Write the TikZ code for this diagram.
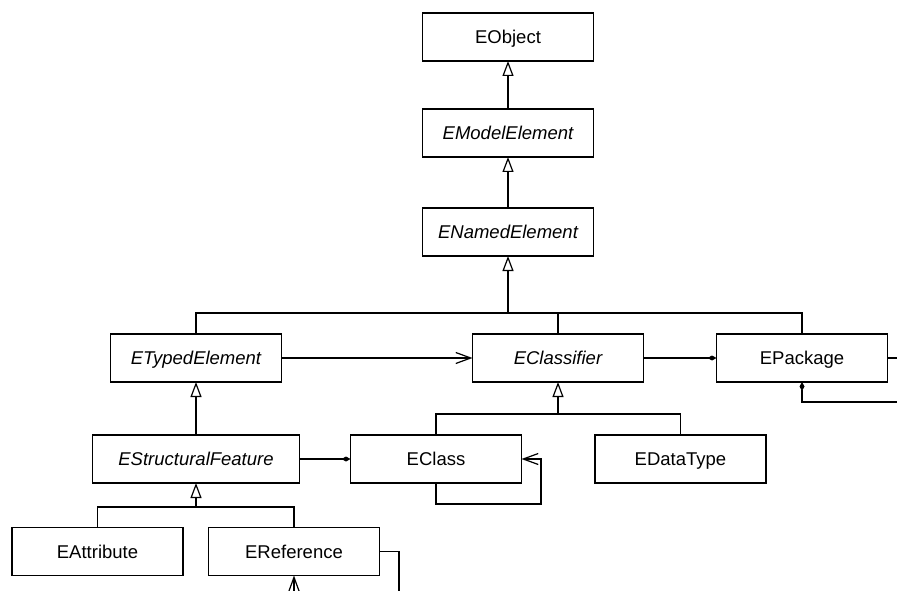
\documentclass[tikz,border=0pt]{standalone}
\usepackage{fontspec}
\setmainfont{Liberation Sans}
\usetikzlibrary{arrows.meta}
\begin{document}
\begin{tikzpicture}[x=1pt,y=-1pt,
  every path/.style={line width=1.2pt},
  cls/.style={draw,line width=1.2pt,rectangle,minimum width=171pt,minimum height=48pt,
    inner sep=0pt,outer sep=0pt,text height=13pt,text depth=0pt,
    font=\fontsize{18.5}{20}\selectfont},
  abstract/.style={cls,font=\fontsize{18.5}{20}\selectfont\itshape},
  gen/.style={-{Triangle[open,length=15pt,width=11pt]}},
  assoc/.style={-{Straight Barb[length=15pt,width=11pt]}},
  comp/.style={-{Diamond[length=9pt,width=5pt]}}]
\useasboundingbox (0,0) rectangle (897,591);

% classes
\node[cls]      (eobj)   at (508,37)    {EObject};
\node[abstract] (emodel) at (508,133)   {EModelElement};
\node[abstract] (enamed) at (508,232)   {ENamedElement};
\node[abstract] (etyped) at (196,358)   {ETypedElement};
\node[abstract] (eclsf)  at (558,358)   {EClassifier};
\node[cls]      (epkg)   at (802,358)   {EPackage};
\node[abstract,minimum width=207pt] (estruct) at (196,459) {EStructuralFeature};
\node[cls]      (eclass) at (436,459)   {EClass};
\node[cls]      (edata)  at (680.5,459) {EDataType};
\node[cls]      (eattr)  at (97.5,551.5) {EAttribute};
\node[cls]      (eref)   at (294,551.5) {EReference};

% junction points and off-page ends
\coordinate (bus1) at (508,313);
\coordinate (bus2) at (558,414);
\coordinate (bus3) at (196,507);
\coordinate (pkgout) at (897,358);
\coordinate (pkgloop) at (897,402);
\coordinate (classloop) at (541,504);
\coordinate (refout) at (399,591);
\coordinate (refin) at (294,591);

% inheritance
\draw[gen] (emodel.north) -- (eobj.south);
\draw[gen] (enamed.north) -- (emodel.south);
\draw[gen] (bus1) -- (enamed.south);
\draw (etyped.north) |- (bus1) -| (epkg.north);
\draw (eclsf.north) -- (eclsf.north |- bus1);
\draw[gen] (estruct.north) -- (etyped.south);
\draw[gen] (bus2) -- (eclsf.south);
\draw (eclass.north) |- (bus2) -| (edata.north);
\draw[gen] (bus3) -- (estruct.south);
\draw (eattr.north) |- (bus3) -| (eref.north);

% associations
\draw[assoc] (etyped.east) -- (eclsf.west);
\draw[comp] (eclsf.east) -- (epkg.west);
\draw (epkg.east) -- (pkgout);
\draw[comp] (pkgloop) -| (epkg.south);
\draw[comp] (estruct.east) -- (eclass.west);
\draw[assoc] (eclass.south) |- (classloop) |- (eclass.east);
\draw (eref.east) -| (refout);
\draw[assoc] (refin) -- (eref.south);
\end{tikzpicture}
\end{document}
